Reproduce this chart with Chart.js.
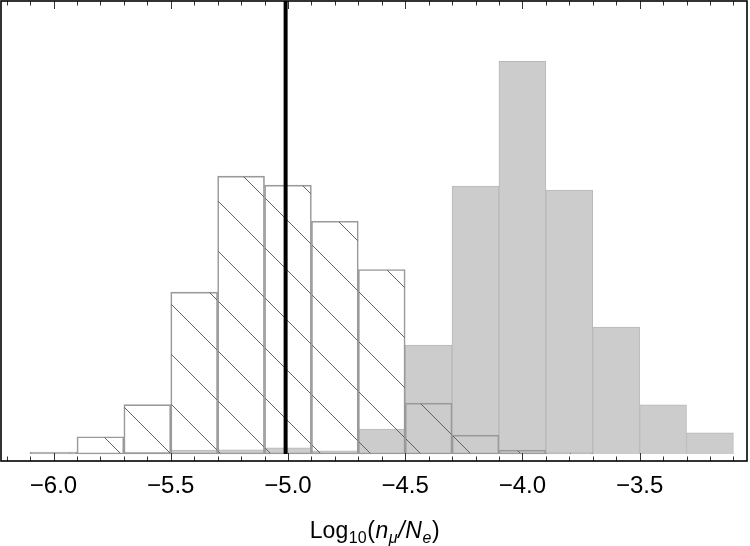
<!DOCTYPE html>
<html lang="en">
<head>
<meta charset="UTF-8">
<title>Log10(n_mu/N_e) histogram</title>
<script src="https://cdn.jsdelivr.net/npm/chart.js"></script>
<style>
  html, body { margin: 0; padding: 0; background: #fff; }
</style>
</head>
<body>
<canvas id="histChart" width="750" height="546"></canvas>
<script>
// bin centres (bin width 0.2, from -6.1 to -3.1)
const binCenters = [-6.0, -5.8, -5.6, -5.4, -5.2, -5.0, -4.8, -4.6, -4.4, -4.2, -4.0, -3.8, -3.6, -3.4, -3.2];
// hatched (open) histogram, density
const hatchedValues = [0.008, 0.068, 0.194, 0.637, 1.094, 1.058, 0.916, 0.726, 0.200, 0.074, 0.015, 0.005, null, null, null];
// grey (filled) histogram, density
const grayValues = [null, null, 0.008, 0.015, 0.016, 0.024, 0.012, 0.098, 0.429, 1.055, 1.546, 1.039, 0.500, 0.193, 0.083];
// thick vertical reference line
const refLineX = -5.01;
const majorTicks = [-6.0, -5.5, -5.0, -4.5, -4.0, -3.5];
const xMin = -6.224, xMax = -3.042;
const yMin = -0.0276, yMax = 1.783;

const FONT = "'Liberation Sans', Arial, Helvetica, sans-serif";

function makeHatch() {
    const c = document.createElement('canvas');
    c.width = 50; c.height = 50;
    const g = c.getContext('2d');
    g.strokeStyle = '#555';
    g.lineWidth = 0.9;
    g.beginPath();
    g.moveTo(-5, -5); g.lineTo(55, 55);
    g.moveTo(-5, 45); g.lineTo(5, 55);
    g.moveTo(45, -5); g.lineTo(55, 5);
    g.stroke();
    const p = g.createPattern(c, 'repeat');
    p.setTransform(new DOMMatrix().translate(17, 0));
    return p;
}

// frame round the plot and the small ticks on top and bottom edges
const framePlugin = {
    id: 'frame',
    afterDraw(chart) {
        const { ctx, chartArea: a, scales: { x } } = chart;
        ctx.save();
        ctx.strokeStyle = '#333';
        ctx.lineWidth = 1;
        for (let i = -62; i <= -31; i++) {
            const v = i / 10;
            const px = Math.round(x.getPixelForValue(v)) + 0.5;
            const len = (i % 5 === 0) ? 8 : 4.5;
            ctx.beginPath();
            ctx.moveTo(px, a.bottom); ctx.lineTo(px, a.bottom - len);
            ctx.moveTo(px, a.top); ctx.lineTo(px, a.top + len);
            ctx.stroke();
        }
        ctx.strokeStyle = '#000';
        ctx.lineWidth = 1.6;
        ctx.strokeRect(a.left, a.top, a.right - a.left, a.bottom - a.top);
        ctx.restore();
    }
};

// axis title with sub-scripts and italics
const titlePlugin = {
    id: 'axisTitle',
    afterDraw(chart) {
        const ctx = chart.ctx;
        const parts = [
            { t: 'Log' },
            { t: '10', sub: true },
            { t: '(' },
            { t: 'n', it: true },
            { t: 'μ', it: true, sub: true },
            { t: '/', it: true },
            { t: 'N', it: true },
            { t: 'e', it: true, sub: true },
            { t: ')' }
        ];
        const font = p => (p.it ? 'italic ' : '') + (p.sub ? 16 : 23) + 'px ' + FONT;
        ctx.save();
        let w = 0;
        parts.forEach(p => { ctx.font = font(p); p.w = ctx.measureText(p.t).width + 0.6; w += p.w; });
        let xPos = 375 - w / 2;
        const base = 538;
        ctx.fillStyle = '#000';
        ctx.textBaseline = 'alphabetic';
        parts.forEach(p => {
            ctx.font = font(p);
            ctx.fillText(p.t, xPos, base + (p.sub ? 5 : 0));
            xPos += p.w;
        });
        ctx.restore();
    }
};

const ctx = document.getElementById('histChart').getContext('2d');
new Chart(ctx, {
    type: 'bar',
    data: {
        datasets: [
            {
                type: 'line',
                data: [{ x: refLineX, y: 0 }, { x: refLineX, y: yMax }],
                borderColor: '#000',
                borderWidth: 4,
                pointRadius: 0,
                order: 0
            },
            {
                data: binCenters.map((c, i) => ({ x: c, y: hatchedValues[i] })),
                backgroundColor: makeHatch(),
                borderColor: '#9a9a9a',
                borderWidth: 1,
                borderSkipped: false,
                barPercentage: 1,
                categoryPercentage: 1,
                grouped: false,
                order: 1
            },
            {
                data: binCenters.map((c, i) => ({ x: c, y: grayValues[i] })),
                backgroundColor: '#cccccc',
                borderColor: '#b8b8b8',
                borderWidth: 1,
                barPercentage: 1,
                categoryPercentage: 1,
                grouped: false,
                order: 2
            }
        ]
    },
    options: {
        responsive: false,
        animation: false,
        layout: { padding: { left: 1, right: 3, top: 1, bottom: 0 } },
        plugins: { legend: { display: false }, tooltip: { enabled: false } },
        scales: {
            x: {
                type: 'linear',
                min: xMin,
                max: xMax,
                offset: false,
                grid: { display: false, drawTicks: false },
                border: { display: false },
                afterBuildTicks: s => { s.ticks = majorTicks.map(v => ({ value: v })); },
                afterFit: s => { s.height = 85; },
                ticks: {
                    autoSkip: false,
                    maxRotation: 0,
                    padding: 11,
                    color: '#000',
                    font: { family: FONT, size: 24 },
                    callback: v => (v < 0 ? '\u2212' : '') + Math.abs(v).toFixed(1)
                }
            },
            y: {
                display: false,
                min: yMin,
                max: yMax
            }
        }
    },
    plugins: [framePlugin, titlePlugin]
});
</script>
</body>
</html>
